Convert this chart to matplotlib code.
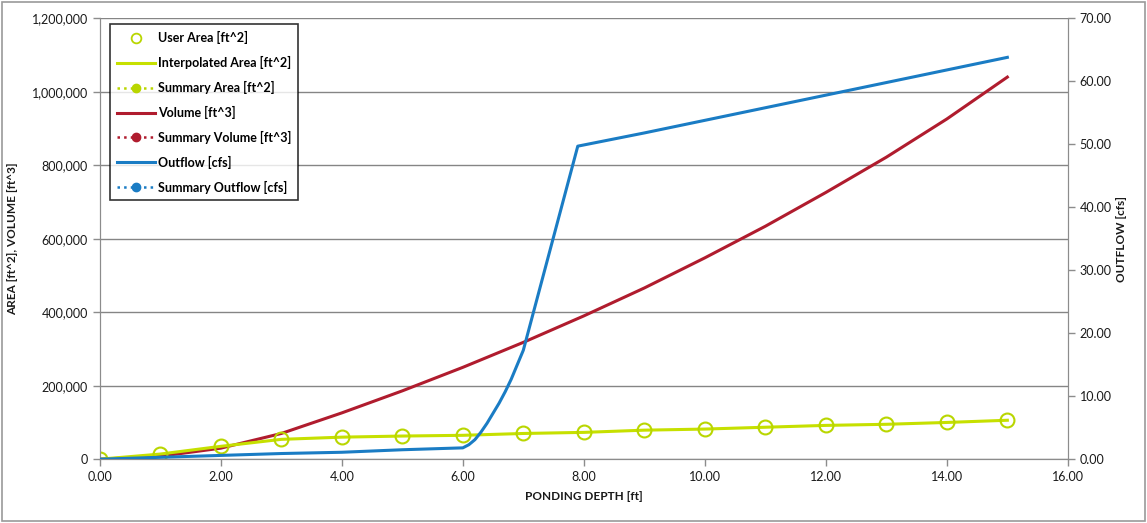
"""Stage-storage-discharge chart for the ponding basin."""

import matplotlib

matplotlib.use("Agg")
import matplotlib.pyplot as plt
from matplotlib import ticker
from matplotlib.lines import Line2D

plt.rcParams["font.family"] = ["Lato", "DejaVu Sans"]

# user-entered stage/area table
depth = [0, 1, 2, 3, 4, 5, 6, 7, 8, 9, 10, 11, 12, 13, 14, 15]
area = [0, 14000, 35000, 54000, 60000, 63000, 65000, 70000,
        73000, 79000, 82000, 87000, 92000, 95000, 100000, 106000]

# cumulative storage volume
vol_depth = [0, 1, 2, 3, 4, 5, 6, 7, 8, 9, 10, 11, 12, 13, 14, 15]
volume = [0, 8000, 30000, 70000, 126000, 186000, 250000, 318000,
          390000, 466000, 548000, 634000, 726000, 822000, 926000, 1040000]

# outlet rating curve
out_depth = [0, 1, 2, 3, 4, 5, 6, 6.1, 6.2, 6.3, 6.4, 6.5, 6.6, 6.7,
             6.8, 6.9, 7.0, 7.9, 9, 10, 11, 12, 13, 14, 15]
outflow = [0, 0.3, 0.6, 0.9, 1.1, 1.5, 1.8, 2.3, 3.1, 4.3, 5.7, 7.3,
           8.9, 10.7, 12.7, 15.0, 17.3, 49.7, 51.8, 53.8, 55.8, 57.8,
           59.8, 61.8, 63.8]

# summary rows (none reported)
sum_depth = []
sum_area = []
sum_volume = []
sum_outflow = []

GREEN = "#b9d600"
LINE_GREEN = "#c6e000"
RED = "#b01c2e"
BLUE = "#1a7cc4"

fig = plt.figure(figsize=(11.47, 5.23), dpi=100)
ax = fig.add_axes([0.087, 0.122, 0.844, 0.843])
ax2 = ax.twinx()

ax.plot(depth, area, color=LINE_GREEN, lw=2.2, zorder=3)
ax.plot(depth, area, ls="none", marker="o", ms=10, mfc="none",
        mec=GREEN, mew=1.5, zorder=4)
ax.plot(vol_depth, volume, color=RED, lw=2.2, zorder=2)
ax.plot(sum_depth, sum_area, color=GREEN, ls=":", marker="o")
ax.plot(sum_depth, sum_volume, color=RED, ls=":", marker="o")
ax2.plot(out_depth, outflow, color=BLUE, lw=2.2, zorder=3)
ax2.plot(sum_depth, sum_outflow, color=BLUE, ls=":", marker="o")

ax.set_xlim(0, 16)
ax.set_ylim(0, 1200000)
ax2.set_ylim(0, 70)
ax.set_xticks(range(0, 17, 2))
ax.set_yticks(range(0, 1200001, 200000))
ax2.set_yticks(range(0, 71, 10))
ax.xaxis.set_major_formatter(ticker.FormatStrFormatter("%.2f"))
ax.yaxis.set_major_formatter(ticker.FuncFormatter(lambda v, p: f"{v:,.0f}"))
ax2.yaxis.set_major_formatter(ticker.FormatStrFormatter("%.2f"))

ax.grid(axis="y", color="#858585", lw=1.0)
ax.set_axisbelow(True)
for a in (ax, ax2):
    for side in ("left", "right", "bottom"):
        a.spines[side].set_color("#8c8c8c")
    a.spines["top"].set_visible(False)
    a.tick_params(colors="#8c8c8c", labelcolor="#1a1a1a", labelsize=9,
                  length=5, width=1)

ax.set_xlabel("PONDING DEPTH [ft]", fontsize=8.5, fontweight="bold",
              color="#1a1a1a", labelpad=6)
ax.set_ylabel("AREA [ft^2], VOLUME [ft^3]", fontsize=8.5, fontweight="bold",
              color="#1a1a1a", labelpad=10)
ax2.set_ylabel("OUTFLOW [cfs]", fontsize=8.5, fontweight="bold",
               color="#1a1a1a", labelpad=3)

handles = [
    Line2D([], [], ls="none", marker="o", ms=7, mfc="none", mec=GREEN, mew=1.3),
    Line2D([], [], color=LINE_GREEN, lw=2.2),
    Line2D([], [], color=GREEN, ls=":", lw=1.8, marker="o", ms=6),
    Line2D([], [], color=RED, lw=2.2),
    Line2D([], [], color=RED, ls=":", lw=1.8, marker="o", ms=6),
    Line2D([], [], color=BLUE, lw=2.2),
    Line2D([], [], color=BLUE, ls=":", lw=1.8, marker="o", ms=6),
]
labels = ["User Area [ft^2]", "Interpolated Area [ft^2]", "Summary Area [ft^2]",
          "Volume [ft^3]", "Summary Volume [ft^3]", "Outflow [cfs]",
          "Summary Outflow [cfs]"]
leg = ax2.legend(handles, labels, loc="upper left", bbox_to_anchor=(0.007, 0.995),
                 frameon=True, fancybox=False, handlelength=3.0,
                 handletextpad=0.25, labelspacing=0.95, borderpad=0.55,
                 borderaxespad=0.3, prop={"weight": "bold", "size": 9})
leg.get_frame().set_edgecolor("#000000")
leg.get_frame().set_linewidth(1.2)
leg.set_zorder(10)

fig.patches.append(plt.Rectangle((0.002, 0.004), 0.996, 0.992, transform=fig.transFigure,
                                 fill=False, edgecolor="#9a9a9a", lw=1.2))

fig.savefig("out.png", dpi=100)
